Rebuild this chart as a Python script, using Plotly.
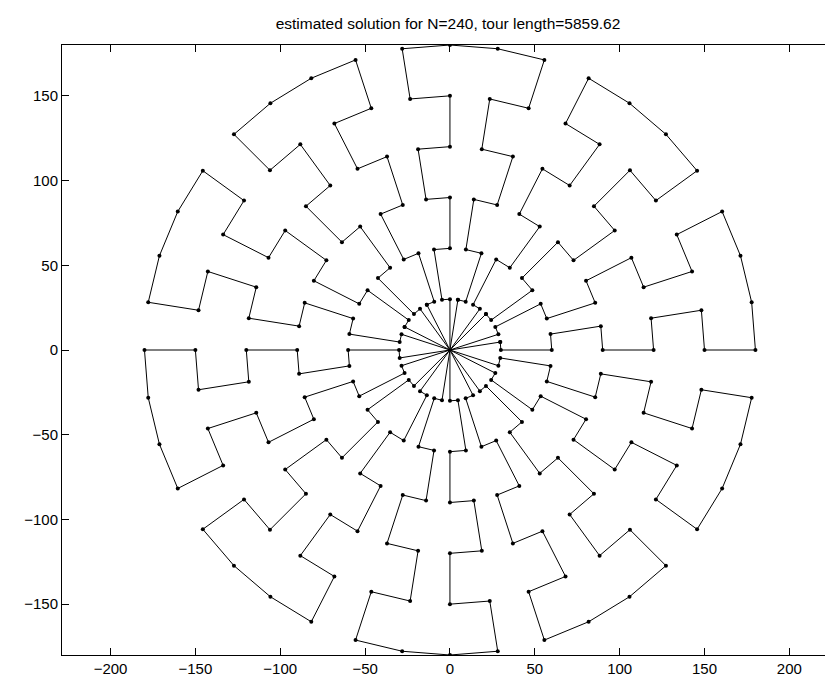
import numpy as np
import plotly.graph_objects as go

# ---- data ----
ring_radii = [30, 60, 90, 120, 150, 180]      # six concentric rings
n_angles = 40                                  # 40 points per ring, 9 degrees apart
angle_step_deg = 9
sector_starts = [0, 4, 8, 12, 16, 20, 24, 28, 32, 36]   # ten 4-angle sectors
# route through one sector: (ring number, angle offset within the sector)
sector_ring = [1, 1, 2, 2, 3, 3, 4, 4, 5, 5, 6, 6, 6, 6, 5, 5, 4, 4, 3, 3, 2, 2, 1, 1]
sector_offset = [1, 0, 0, 1, 1, 0, 0, 1, 1, 0, 0, 1, 2, 3, 3, 2, 2, 3, 3, 2, 2, 3, 3, 2]
# sectors joined to each other by the lines through the centre
joined_sectors = [(0, 5), (1, 6), (2, 7), (3, 8), (4, 9)]
title_text = "estimated solution for N=240, tour length=5859.62"
x_ticks = [-200, -150, -100, -50, 0, 50, 100, 150, 200]
y_ticks = [-150, -100, -50, 0, 50, 100, 150]


def point(ring, k):
    r = ring_radii[ring - 1]
    th = np.deg2rad(angle_step_deg * (k % n_angles))
    return r * np.cos(th), r * np.sin(th)


def sector_path(s):
    a = sector_starts[s]
    return [point(rg, a + off) for rg, off in zip(sector_ring, sector_offset)]


xs, ys = [], []
for g, h in joined_sectors:
    cyc = sector_path(g) + sector_path(h)[::-1]
    cyc.append(cyc[0])
    xs += [p[0] for p in cyc] + [None]
    ys += [p[1] for p in cyc] + [None]

fig = go.Figure()
fig.add_trace(go.Scatter(
    x=xs, y=ys, mode="lines+markers",
    line=dict(color="black", width=1),
    marker=dict(color="black", size=4),
    connectgaps=False, hoverinfo="skip", showlegend=False,
))

font_family = "Liberation Sans, Arial, Helvetica, sans-serif"
axis_common = dict(
    showline=True, linecolor="black", linewidth=1, mirror="ticks",
    ticks="inside", ticklen=7, tickcolor="black", tickwidth=1,
    showgrid=False, zeroline=False,
    tickfont=dict(family=font_family, size=15, color="black"),
)


def fmt(v):
    return ("\u2212" + str(-v)) if v < 0 else str(v)


fig.update_xaxes(range=[-228.6, 226.3], tickvals=x_ticks,
                 ticktext=[fmt(v) for v in x_ticks], **axis_common)
fig.update_yaxes(range=[-180, 180], tickvals=y_ticks,
                 ticktext=[fmt(v) for v in y_ticks], **axis_common)

fig.update_layout(
    width=833, height=678,
    margin=dict(l=54, r=7, t=37, b=31),
    paper_bgcolor="white", plot_bgcolor="white",
    title=dict(text=title_text, x=0.5, xref="paper", y=1 - 16 / 678, yref="container",
               xanchor="center", yanchor="middle",
               font=dict(family=font_family, size=15.5, color="black")),
)
fig.write_html("out.html")
